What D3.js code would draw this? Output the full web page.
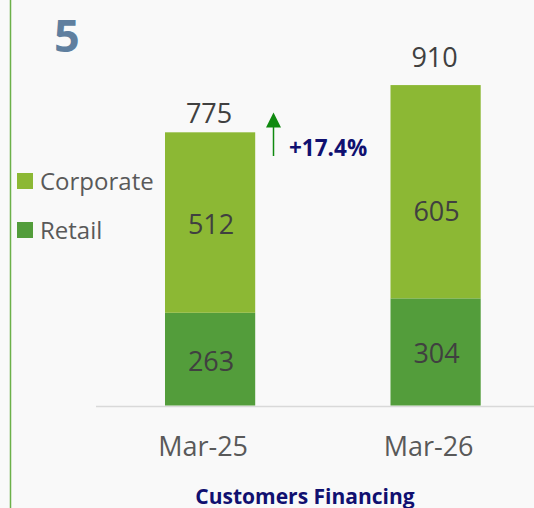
<!DOCTYPE html>
<html>
<head>
<meta charset="utf-8">
<script src="https://cdn.jsdelivr.net/npm/d3@7"></script>
<style>
html,body{margin:0;padding:0;background:#f9f9f9;}
svg{display:block;font-family:"Open Sans",sans-serif;}
</style>
</head>
<body>
<svg id="chart" width="534" height="508"></svg>
<script>
const categories = ["Mar-25", "Mar-26"];
const retail = [263, 304];
const corporate = [512, 605];
const totals = [775, 910];
const seriesNames = ["Corporate", "Retail"];
const growthLabel = "+17.4%";
const panelNumber = "5";
const chartTitle = "Customers Financing";

const colors = { Corporate: "#8cb834", Retail: "#539d3b" };

const svg = d3.select("#chart");
const W = 534, H = 508;

svg.append("rect").attr("width", W).attr("height", H).attr("fill", "#f9f9f9");
// left green border line
svg.append("line").attr("x1", 10.5).attr("x2", 10.5).attr("y1", 0).attr("y2", H)
  .attr("stroke", "#6cb049").attr("stroke-width", 1.5);

const x = d3.scaleBand().domain(categories).range([52.25, 593.45])
  .paddingInner(0.6).paddingOuter(0.5);
const y = d3.scaleLinear().domain([0, 1000]).range([405.5, 53]);

const data = categories.map((c, i) => ({ cat: c, Retail: retail[i], Corporate: corporate[i], total: totals[i] }));
const stack = d3.stack().keys(["Retail", "Corporate"])(data);

// axis baseline
svg.append("line").attr("x1", 96).attr("x2", W).attr("y1", 406.5).attr("y2", 406.5)
  .attr("stroke", "#d9d9d9").attr("stroke-width", 1.5);

const layers = svg.selectAll("g.layer").data(stack).join("g").attr("class", "layer")
  .attr("fill", d => colors[d.key]);
layers.selectAll("rect").data(d => d).join("rect")
  .attr("x", d => x(d.data.cat))
  .attr("width", x.bandwidth())
  .attr("y", d => y(d[1]))
  .attr("height", d => y(d[0]) - y(d[1]));

// segment labels (the original nudges the Mar-26 corporate label downward)
stack.forEach(layer => {
  svg.selectAll(null).data(layer).join("text")
    .attr("x", d => x(d.data.cat) + x.bandwidth() / 2 + 1)
    .attr("y", d => {
      const nudge = (layer.key === "Corporate" && d.data.cat === "Mar-26") ? 17.5 : 0;
      return (y(d[0]) + y(d[1])) / 2 + 11.5 + nudge;
    })
    .attr("text-anchor", "middle")
    .attr("font-size", 27)
    .attr("fill", "#404040")
    .text(d => d[1] - d[0]);
});

// totals (Mar-26 total sits higher above its bar in the original)
svg.selectAll("text.total").data(data).join("text").attr("class", "total")
  .attr("x", d => x(d.cat) + x.bandwidth() / 2 - 1)
  .attr("y", d => y(d.total) - (d.cat === "Mar-26" ? 18 : 9))
  .attr("text-anchor", "middle")
  .attr("font-size", 27)
  .attr("fill", "#404040")
  .text(d => d.total);

// x axis labels
const xAxis = d3.axisBottom(x).tickSize(0).tickPadding(0);
const gx = svg.append("g").attr("transform", "translate(-7,437)").call(xAxis);
gx.select(".domain").remove();
gx.selectAll("text").attr("font-size", 27).attr("fill", "#595959")
  .attr("font-family", "Open Sans, sans-serif").attr("dy", "0.72em");

// title
svg.append("text").attr("x", 305).attr("y", 503.5).attr("text-anchor", "middle")
  .attr("font-size", 21).attr("font-weight", "bold").attr("fill", "#101070")
  .text(chartTitle);

// panel number
svg.append("text").attr("x", 54).attr("y", 51.5)
  .attr("font-size", 45).attr("font-weight", "bold").attr("fill", "#5f7f9f")
  .text(panelNumber);

// legend
const legend = svg.append("g");
seriesNames.forEach((name, i) => {
  const ly = 173 + i * 49;
  legend.append("rect").attr("x", 17).attr("y", ly).attr("width", 16).attr("height", 16)
    .attr("fill", colors[name]);
  legend.append("text").attr("x", 40).attr("y", ly + 16.5)
    .attr("font-size", 24).attr("fill", "#595959").text(name);
});

// growth arrow
const ax = 273.5;
const arrowTop = 112.5, arrowBase = 127.5, arrowBottom = 156;
svg.append("line").attr("x1", ax).attr("x2", ax).attr("y1", arrowBase - 1).attr("y2", arrowBottom)
  .attr("stroke", "#108a10").attr("stroke-width", 1.5);
svg.append("path")
  .attr("d", `M${ax},${arrowTop} L${ax + 7.5},${arrowBase} L${ax - 7.5},${arrowBase} Z`)
  .attr("fill", "#108a10");
svg.append("text").attr("x", 289).attr("y", 156)
  .attr("font-size", 22.5).attr("font-weight", "bold").attr("fill", "#101070")
  .text(growthLabel);
</script>
</body>
</html>
